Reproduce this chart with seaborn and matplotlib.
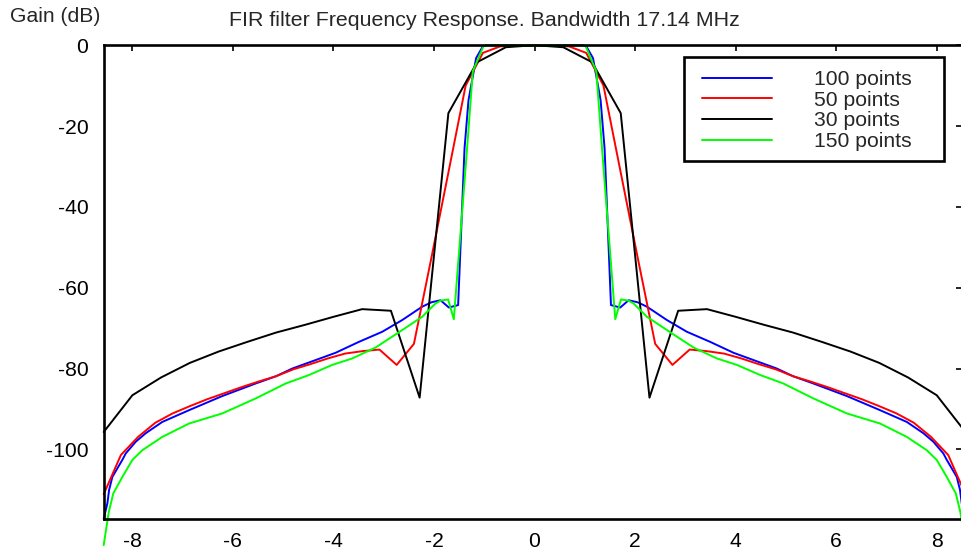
import numpy as np
import pandas as pd
import matplotlib
matplotlib.use("Agg")
import matplotlib.pyplot as plt
from matplotlib.patches import Rectangle
import seaborn as sns

# one-sided responses (freq in MHz, gain in dB); the filter is symmetric about 0
black_freq = [0, 0.571, 1.143, 1.714, 2.286, 2.857, 3.429, 4.0, 4.571, 5.143,
              5.714, 6.286, 6.857, 7.429, 8.0, 8.571]
black_gain = [0, -0.5, -4.2, -16.8, -87.2, -65.7, -65.3, -67.2, -69.2, -71.1,
              -73.4, -75.8, -78.6, -82.2, -86.6, -95.7]

red_freq = [0, 0.343, 0.686, 1.028, 1.371, 1.714, 2.057, 2.4, 2.743, 3.086,
            3.428, 3.771, 4.114, 4.457, 4.8, 5.143, 5.486, 5.829, 6.171, 6.514,
            6.857, 7.2, 7.543, 7.886, 8.229, 8.571]
red_gain = [0, -0.05, -0.3, -1.9, -10.0, -31.5, -52.9, -73.9, -79.1, -75.3,
            -75.7, -76.3, -77.5, -78.9, -80.2, -81.9, -83.2, -84.6, -86.1, -87.6,
            -89.3, -91.1, -93.4, -96.9, -101.4, -111.1]

blue_freq = [0, 0.96, 1.03, 1.163, 1.314, 1.393, 1.52, 1.705, 1.871, 2.05,
             2.236, 2.633, 3.03, 3.494, 3.958, 4.355, 4.82, 5.143, 5.548, 6.211,
             6.873, 7.404, 7.735, 7.933, 8.132, 8.2, 8.398, 8.463, 8.497, 8.571]
blue_gain = [0, 0, -0.3, -3.2, -13.6, -25.5, -64.3, -64.9, -63.1, -63.6,
             -64.7, -68.0, -70.9, -73.4, -76.1, -77.9, -80.0, -81.9, -83.7, -86.8,
             -90.3, -93.2, -96.0, -98.1, -101.0, -102.6, -106.8, -110.0, -113.3, -117.2]

green_freq = [0, 0.95, 1.016, 1.129, 1.228, 1.342, 1.606, 1.719, 1.870, 1.970,
              2.236, 2.733, 3.163, 3.627, 4.025, 4.488, 4.95, 5.548, 6.211,
              6.873, 7.404, 7.802, 8.0, 8.199, 8.38, 8.47, 8.571]
green_gain = [0, 0, -0.2, -3.6, -6.4, -25.5, -67.8, -62.9, -63.2, -63.9,
              -67.2, -71.3, -74.8, -77.5, -79.1, -81.6, -83.7, -87.4, -91.1,
              -93.6, -96.9, -100.2, -102.6, -106.8, -110.9, -115.5, -123.7]

series_names = ['100 points', '50 points', '30 points', '150 points']
series_colors = ['#0000ff', '#ff0000', '#000000', '#00ff00']
x_ticks = [-8, -6, -4, -2, 0, 2, 4, 6, 8]
y_ticks = [0, -20, -40, -60, -80, -100]


def mirror(f, g):
    f = np.asarray(f, dtype=float)
    g = np.asarray(g, dtype=float)
    return np.concatenate([-f[:0:-1], f]), np.concatenate([g[:0:-1], g])


frames = []
for name, (f, g) in zip(series_names, [(blue_freq, blue_gain), (red_freq, red_gain),
                                       (black_freq, black_gain), (green_freq, green_gain)]):
    ff, gg = mirror(f, g)
    frames.append(pd.DataFrame({'freq': ff, 'gain': gg, 'series': name}))
df = pd.concat(frames, ignore_index=True)

sns.set_style("white")
plt.rcParams['font.family'] = ['Liberation Sans', 'DejaVu Sans']
fs = 15.2

fig = plt.figure(figsize=(9.61, 5.5), dpi=100)
ax = fig.add_axes([0.1079, 0.0558, 0.8967, 0.862])

sns.lineplot(data=df, x='freq', y='gain', hue='series', hue_order=series_names,
             palette=dict(zip(series_names, series_colors)), estimator=None,
             sort=False, linewidth=1.4, ax=ax)
for line in ax.lines:
    line.set_clip_on(False)

ax.set_xlim(-8.571, 8.571)
ax.set_ylim(-117.3, 0)
ax.set_xticks(x_ticks)
ax.set_yticks(y_ticks)
ax.set_xticklabels([str(t) for t in x_ticks])
ax.set_yticklabels([str(t) for t in y_ticks])
ax.set_xlabel('')
ax.set_ylabel('')
ax.tick_params(axis='x', direction='in', top=True, length=4.3, width=1.2, pad=9,
               labelsize=fs, colors='black')
ax.tick_params(axis='y', direction='in', right=True, length=6.5, width=1.2, pad=11,
               labelsize=fs, colors='black')
for sp in ax.spines.values():
    sp.set_visible(True)
    sp.set_color('black')
    sp.set_linewidth(1.9)

fig.text(484 / 961, 1 - 20 / 550, 'FIR filter Frequency Response. Bandwidth 17.14 MHz',
         ha='center', va='center', fontsize=15.4)
fig.text(10 / 961, 1 - 17 / 550, 'Gain (dB)', ha='left', va='center', fontsize=fs)

# legend box drawn separately so its size matches the reference
ax.add_patch(Rectangle((0.6734, 0.7557), 0.3018, 0.2194, transform=ax.transAxes,
                       fill=False, edgecolor='black', linewidth=1.9, zorder=5))
handles, labels = ax.get_legend_handles_labels()
ax.legend(handles, labels, loc='upper left', bbox_to_anchor=(0.6795, 0.9751),
          frameon=False, borderaxespad=0, borderpad=0.62, handlelength=3.3,
          handletextpad=2.0, labelspacing=0.08, fontsize=fs)

fig.savefig('out.png', dpi=100)
